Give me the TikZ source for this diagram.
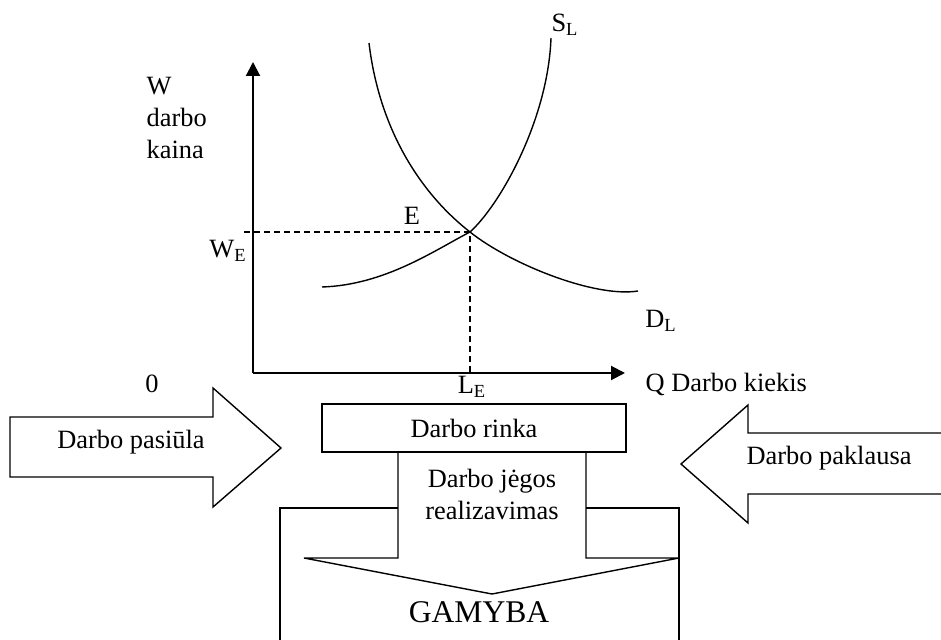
\documentclass[tikz,border=0pt]{standalone}
\usepackage{fontspec}
\setmainfont{Liberation Serif}
\usetikzlibrary{arrows.meta}

\begin{document}
\begin{tikzpicture}[x=0.5pt,y=-0.5pt,line width=0.7pt,line join=miter,
    every node/.style={font=\fontsize{13.2}{16}\selectfont,inner sep=1pt},
    axis/.style={line width=1pt,-{Triangle[length=7pt,width=7pt]}},
    guide/.style={dash pattern=on 3pt off 2pt}]
    \useasboundingbox (0,0) rectangle (941,640);

    % darbo rinkos grafikas
    \coordinate (O) at (253,373);
    \coordinate (E) at (470,232);
    \draw[axis] (O) -- (253,62);
    \draw[axis] (O) -- (625,373);
    \draw (369,43) .. controls (380,135) and (425,197) .. (E)
        .. controls (510,264) and (595,298) .. (638,291);
    \draw (322,287) .. controls (385,285) and (435,250) .. (E)
        .. controls (500,205) and (548,120) .. (551,38);
    \draw[guide] (244,232) -- (E) -- (E |- O);

    \node[anchor=west,align=left] (kaina) at (144,118) {W\\darbo\\kaina};
    \node (SL) at (565,25) {S\textsubscript{L}};
    \node (DL) at (661,321) {D\textsubscript{L}};
    \node (Elab) at (412,216) {E};
    \node (WE) at (228,251) {W\textsubscript{E}};
    \node (LE) at (472,387) {L\textsubscript{E}};
    \node (zero) at (152,384) {0};
    \node[anchor=west] (kiekis) at (643,384) {Q Darbo kiekis};

    % pasiula ir paklausa
    \draw (10,417) -- (213,417) -- (213,388) -- (281,448) -- (213,507)
        -- (213,477) -- (10,477) -- cycle;
    \node (pasiula) at (131,442) {Darbo pasiūla};
    \draw (941,433) -- (748,433) -- (748,405) -- (681,464) -- (748,523)
        -- (748,494) -- (941,494);
    \node (paklausa) at (829,458) {Darbo paklausa};

    % rinka ir gamyba
    \draw (322,404) rectangle (626,452);
    \node (rinka) at (474,428) {Darbo rinka};
    \draw (398,452) -- (398,558) -- (304,558) -- (492,594) -- (679,558)
        -- (586,558) -- (586,452);
    \node[align=center] (realiz) at (492,494) {Darbo jėgos\\realizavimas};
    \draw (398,508) -- (280,508) -- (280,650);
    \draw (586,508) -- (679,508) -- (679,650);
    \node[font=\fontsize{15.8}{19}\selectfont] (gamyba) at (479,612) {GAMYBA};
\end{tikzpicture}
\end{document}
